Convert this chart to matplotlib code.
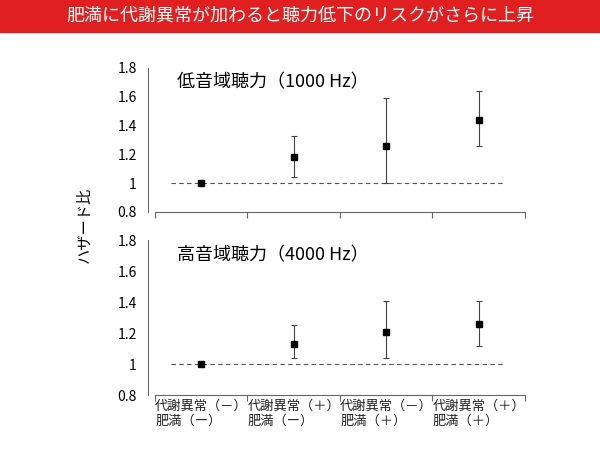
import matplotlib.pyplot as plt
import matplotlib.patches as patches
import matplotlib.transforms as mt

plt.rcParams['font.family'] = ['Noto Sans CJK JP']

categories = ['代謝異常（－）\n肥満（ー）', '代謝異常（＋）\n肥満（ー）',
              '代謝異常（－）\n肥満（＋）', '代謝異常（＋）\n肥満（＋）']
low_hr = [1.0, 1.18, 1.26, 1.44]
low_lo = [1.0, 1.04, 1.00, 1.26]
low_hi = [1.0, 1.33, 1.59, 1.64]
high_hr = [1.0, 1.13, 1.21, 1.26]
high_lo = [1.0, 1.04, 1.04, 1.12]
high_hi = [1.0, 1.25, 1.41, 1.41]
yticks = [0.8, 1, 1.2, 1.4, 1.6, 1.8]
yticklabels = ['0.8', '1', '1.2', '1.4', '1.6', '1.8']

fig = plt.figure(figsize=(6, 4.5), dpi=100)
fig.patches.append(patches.Rectangle((0, 1 - 32 / 450), 1, 32 / 450, transform=fig.transFigure,
                                     color='#e02020', zorder=0))
fig.text(0.5, 1 - 16 / 450, '肥満に代謝異常が加わると聴力低下のリスクがさらに上昇',
         color='white', fontsize=13, ha='center', va='center')

ax1 = fig.add_axes([0.258, 0.529, 0.617, 0.32])
ax2 = fig.add_axes([0.258, 0.122, 0.617, 0.344])

def draw(ax, hr, lo, hi, title, show_x):
    x = list(range(len(hr)))
    err = [[h - l for h, l in zip(hr, lo)], [u - h for h, u in zip(hr, hi)]]
    ax.plot([-0.32, 3.28], [1, 1], ls=(0, (4, 3)), color='#555555', lw=0.8)
    ax.errorbar(x, hr, yerr=err, fmt='s', color='black', ms=5, ecolor='#444444',
                elinewidth=0.8, capsize=2.5, capthick=0.8)
    ax.set_xlim(-0.5, 3.5)
    ax.set_ylim(0.8, 1.8)
    ax.set_yticks(yticks)
    ax.set_yticklabels(yticklabels, fontname='Liberation Sans', fontsize=10)
    ax.tick_params(axis='y', length=0, pad=8)
    ax.spines['top'].set_visible(False)
    ax.spines['right'].set_visible(False)
    ax.spines['left'].set_position(('outward', 5))
    ax.spines['left'].set_color('#666666')
    ax.spines['bottom'].set_color('#666666')
    ax.set_xticks([-0.5, 0.5, 1.5, 2.5, 3.5])
    ax.set_xticklabels([])
    ax.tick_params(axis='x', direction='out', length=4, color='#666666')
    ax.set_xticks(x, minor=True)
    ax.tick_params(axis='x', which='minor', length=0)
    if show_x:
        ax.set_xticklabels(categories, minor=True, fontsize=9.5, ha='left', color='#222222')
        off = mt.ScaledTranslation(-46 / 100, 0, fig.dpi_scale_trans)
        for lab in ax.get_xticklabels(minor=True):
            lab.set_transform(lab.get_transform() + off)
    ax.text(0.06, 0.96, title, transform=ax.transAxes, fontsize=13, va='top')

draw(ax1, low_hr, low_lo, low_hi, '低音域聴力（1000 Hz）', False)
draw(ax2, high_hr, high_lo, high_hi, '高音域聴力（4000 Hz）', True)

fig.text(0.14, 0.5, 'ハザード比', rotation=90, fontsize=11, ha='center', va='center')

plt.savefig('out.png', dpi=100, facecolor='white')
